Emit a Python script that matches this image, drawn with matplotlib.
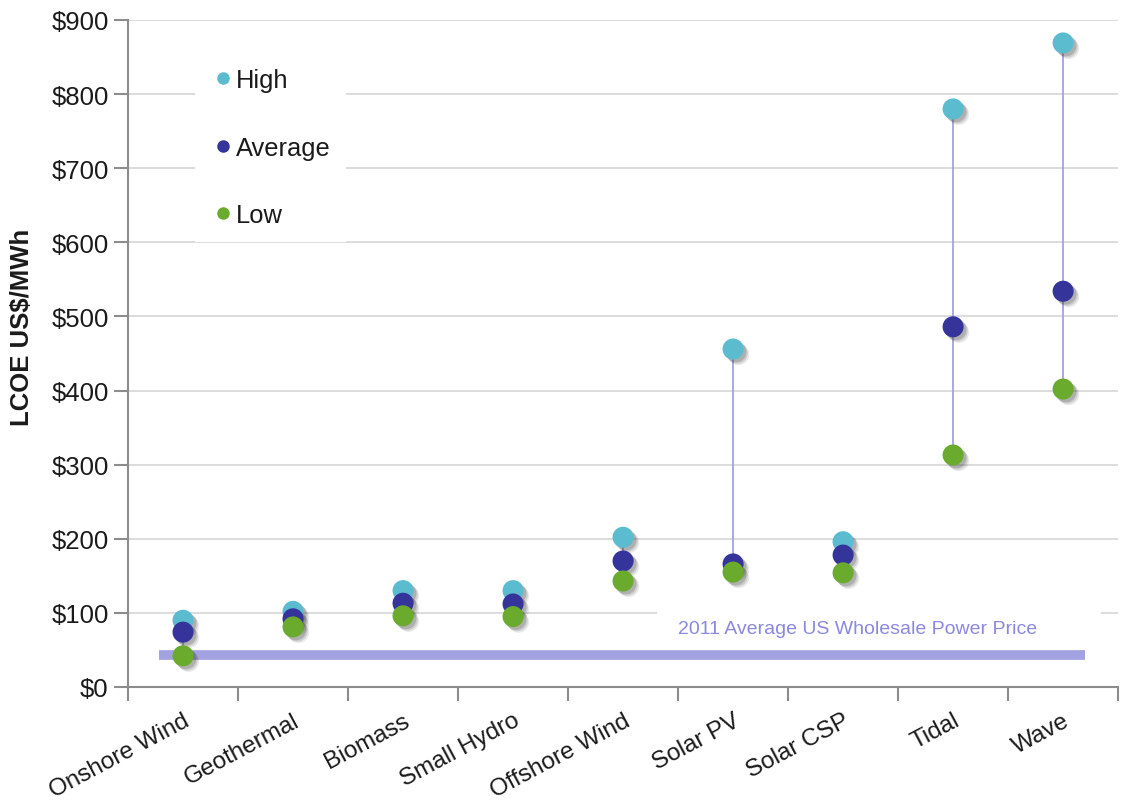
import matplotlib
matplotlib.use("Agg")
import matplotlib.pyplot as plt
import matplotlib.patheffects as pe
from matplotlib.lines import Line2D
from matplotlib.patches import Rectangle
from matplotlib.ticker import FuncFormatter, MultipleLocator
import numpy as np

plt.rcParams["font.family"] = ["Liberation Sans", "DejaVu Sans"]

# ── DATA ──────────────────────────────────────────────────────────────────────
technologies = ["Onshore Wind", "Geothermal", "Biomass", "Small Hydro",
                "Offshore Wind", "Solar PV", "Solar CSP", "Tidal", "Wave"]
lcoe_high = [90, 102, 130, 130, 202, 456, 196, 780, 869]
lcoe_avg = [74, 92, 113, 112, 170, 166, 178, 486, 534]
lcoe_low = [42, 81, 96, 95, 143, 155, 154, 313, 402]
wholesale_price = 43
wholesale_label = "2011 Average US Wholesale Power Price"

# ── STYLE ─────────────────────────────────────────────────────────────────────
C_HIGH = "#5bbcd0"
C_AVG = "#35349a"
C_LOW = "#6aaa2c"
C_LINE = "#a3a2e0"
GRID = "#d9d9d9"
SPINE = "#8c8c8c"
TXT = "#1a1a1a"

fig = plt.figure(figsize=(11.26, 8.04), dpi=100)
ax = fig.add_axes([0.1137, 0.1443, 0.8793, 0.8296])

x = np.arange(len(technologies))

# high-low range lines
ax.vlines(x, lcoe_low, lcoe_high, color=C_LINE, lw=1.3, zorder=3)

# wholesale price band
ax.hlines(wholesale_price, -0.22, 8.2, color=C_LINE, lw=7, zorder=2)

# soft drop shadow: a few faint offset copies
shadow = [pe.SimplePatchShadow(offset=(o, -o), shadow_rgbFace="#333333", alpha=a)
          for o, a in [(4.0, 0.10), (3.0, 0.15), (2.0, 0.20)]] + [pe.Normal()]
for vals, col in [(lcoe_high, C_HIGH), (lcoe_avg, C_AVG), (lcoe_low, C_LOW)]:
    ax.scatter(x, vals, s=230, color=col, edgecolors="none", zorder=4,
               path_effects=shadow)

# label for the wholesale band, on a white patch over the gridline
ax.add_patch(Rectangle((4.31, 62), 4.03, 46, facecolor="white", edgecolor="none", zorder=1))
ax.text(6.13, 79, wholesale_label, color="#8a88e0", fontsize=14,
        ha="center", va="center", zorder=5)

# axes
ax.set_xlim(-0.5, 8.5)
ax.set_ylim(0, 900)
ax.yaxis.set_major_locator(MultipleLocator(100))
ax.yaxis.set_major_formatter(FuncFormatter(lambda v, _: f"${v:,.0f}"))
ax.grid(axis="y", color=GRID, lw=1.3, zorder=0)
ax.set_axisbelow(True)

ax.set_xticks(x)
ax.set_xticklabels(technologies, rotation=28, ha="right", rotation_mode="anchor")
ax.set_xticks(np.arange(-0.5, 9.0, 1.0), minor=True)
ax.tick_params(axis="x", which="major", length=0, pad=16, labelsize=17.5, labelcolor=TXT)
ax.tick_params(axis="x", which="minor", length=10, width=1.5, color=SPINE, direction="out")
ax.tick_params(axis="y", length=10, width=1.5, color=SPINE, labelsize=18.5,
               labelcolor=TXT, pad=4)

for side in ("top", "right"):
    ax.spines[side].set_visible(False)
for side in ("left", "bottom"):
    ax.spines[side].set_color(SPINE)
    ax.spines[side].set_linewidth(1.5)

fig.text(22 / 1126, 1 - 327 / 804, "LCOE US$/MWh", fontsize=18.5, fontweight="bold",
         rotation=90, ha="center", va="center", color=TXT)

handles = [Line2D([], [], marker="o", ls="none", ms=9, color=c, mec="none")
           for c in (C_HIGH, C_AVG, C_LOW)]
leg = ax.legend(handles, ["High", "Average", "Low"], loc="upper left",
                bbox_to_anchor=(0.055, 0.97), fontsize=18.4, labelspacing=1.7,
                handletextpad=0.0, handlelength=1.0, borderpad=0.6,
                frameon=True, fancybox=False)
for t in leg.get_texts():
    t.set_color(TXT)
leg.get_frame().set_facecolor("white")
leg.get_frame().set_edgecolor("none")
leg.get_frame().set_alpha(1.0)
leg.set_zorder(6)

fig.savefig("out.png", dpi=100)
